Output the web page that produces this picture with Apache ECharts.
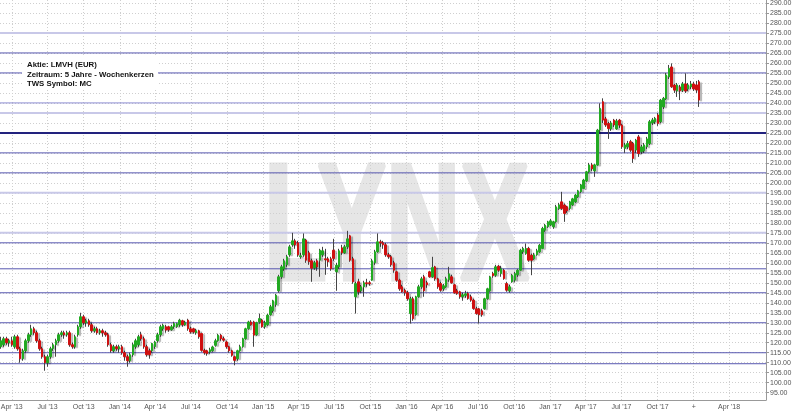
<!DOCTYPE html>
<html><head><meta charset="utf-8">
<script src="https://cdn.jsdelivr.net/npm/echarts@6/dist/echarts.min.js"></script>
<style>html,body{margin:0;padding:0;background:#fff}#c{width:800px;height:414px}</style>
</head><body><div id="c"></div>
<script>
// ---- DATA ----
const firstWeek = '2013-03-04'; // Monday of the first weekly candle
const opens = [
118,119,122,120,121,118,123,117,112,116, 121,124,127,125,121,117,113,110,113,117,
119,121,124,125,124,125,119,118,124,128, 133,130,131,129,126,127,125,126,125,124,
119,116,118,117,118,115,113,111,114,118, 119,124,122,118,116,116,118,121,124,127,
128,128,126.5,128,128,129,131,129,131.3,127, 127,125,126,124.6,116.2,116,115.4,116,118.7,121,
123.8,122,120.4,118,116,113,112,116,118,122, 127,130.4,130.4,124,130.4,131.3,128,129,134,136,
139,146,153,157,159,164,169,171,170,163, 164,171.3,165,161,157.5,161,161.3,164,162,162,
162,166.3,155.5,158,167.5,165,168,173.5,162,143, 150.5,146,148,150,150,151.3,160,165.5,170.5,170,
169,164,163,160,155.5,151.3,148,146.3,145,134.6, 142,134,143,148,153,150,155.5,153,158,152,
149.6,147,148,151.5,153,149,146,145.5,143,143.7, 144.6,143,141.3,137,137,136,137,142,146,154.6,
153.8,158.3,154.6,156.3,149.6,146,150.5,151.3,154,156.3, 165.5,164.6,167.2,163.8,162,164,165.5,167.2,176.3,178,
179,178,180.5,187,190.5,188.9,188,187.2,189,190.5, 193,195.5,197.2,201,205.5,209,206,208.9,226.4,240.6,
232,229.7,227,231.4,227,231.4,228.9,217.2,218,220.6, 219.7,216.4,223,215.6,216,218,219.7,230,230.6,234,
230.6,238,242,253,258,248.9,246,248,246.4,249.5, 247,248,249.5,249,250.6
];
const closes = [
121,122,120,121,119,123,117,112,116,121, 124,127,125,121,117,113,110,113,117,119,
121,124,125,124,125,119,118,123,128,133, 130,131,129,126,127,125,126,125,124,119,
116,118,117,118,115,113,111,114,119,121, 123,122,118,114,114,119.6,120.4,124,128,128.8,
126.3,126.5,128,129.6,129.5,131.3,129,130,127,125.4, 125.4,126,123,116.2,115,114.6,116.5,117.9,121,123.8,
122,121.3,118,116,113.7,111.2,116,118,122,127, 130.4,129,123.8,130,132.1,128,130,133.8,138,141,
143.8,153,158,161,163,168,171,169,164,163.5, 172,161.3,160.5,157.3,160,158,166.3,166,161.5,160.5,
157,162.2,158.8,166,165,168,172,161.3,150.5,149.6, 145.5,148,150,149.6,149.6,161,165.5,170.5,170,169,
164,163,159,156.3,151.3,147,145.5,145,142,142, 132,143,148,152,146,149,153,157.6,152,148,
146.3,148.5,152,154.5,150,145,144.6,143,144,144.5, 142.1,141.3,137.1,134.6,134,134,142,147,153,153.5,
158,156.3,157,152.1,146.3,148,153.8,154.6,156.3,166.3, 167.2,167.2,161.3,161.3,164,166,168.8,177.2,178.8,180.5,
181,180.5,188,189,187.2,184.7,186,190.5,192,193.9, 196,199,201.4,205.5,209,207,209,226.4,237.3,231.4,
229,227.2,230,229,231,228.9,218.1,219,219.7,216.4, 212.2,221.4,214.7,218,219,222,230.6,231.5,232.3,229.7,
241.4,242.3,254,257.3,248.1,246.4,249,246,249.5,246, 249,249.5,247,246.5,241.4
];
const lows = [
117,118,119,118,118,117,116,110,111,115, 120,123,124,120,116,112,106,108,112,116,
113,120,123,122,123,118,117,117,123,127, 129,128,128,125,125,124,124,123,123,118,
115,115,116,115,114,111,108,110,113,117, 118,121,117,113,112,115,117,120,123,126,
125,125.5,126,127,127.5,128,128,128.5,126,124.5, 124.5,124,122,115.5,114,113.5,114.5,115.5,118,120.5,
121,120.5,117,115,113,108.7,111,115.5,117.5,121.5, 126.5,128.5,118,123.5,129.5,127.5,127,128.5,133.5,135,
138,145,152,156,158,163,168,167,163,162, 163,160,159,150.5,156.5,156,153,163,154,158,
156,161,146,157,164,164.5,167,160.5,149.5,134.6, 144,145,143,148,148.5,151,159,165,168,167,
163,162,158,155,150.5,146,145,143.5,141,129.6, 131,133.5,142.5,147,143,147.5,152.5,152.5,151,147,
145.5,146,147.5,150.5,149.5,144.5,144,142,141,142.5, 141.5,140.5,136.5,134,129.6,133,136.5,141.5,145.5,152.5,
153,155.5,153,151.5,145.5,145,150,150.5,153,156, 164.5,164,160.5,153.8,161.5,163.5,165,167,175.5,177.5,
178.5,177,180,186.5,186.5,180.5,185,186.5,188.5,190, 192.5,195,197,200.5,205,206,203,208.5,225.5,230,
228,222,226,228,226.5,227.5,217,215,217,215.5, 210,215,213,214.5,215,217,219,229,229.5,228.5,
230,237,241.5,252,247.5,245,243,241.4,245.5,245, 246,247,246,245,238
];
const highs = [
123,123,123,122,123,124,124,118,117,122, 125,129,128,126,122,118,114,114,118,120,
122,125,126,126,126,126,120,124,129,135, 134,132,132,130,128,128,127,127,126,125,
120,119,119,119,119,116,114,115,120,122, 124,125.5,123,119,117,120,121,125,129,129.5,
129,128.5,129,130.5,130,132,131.5,131,132,128, 127.5,127,126.5,125,117,116.5,117.5,118.5,122,124.5,
124.5,123,121,118.5,116.5,113.5,116.5,119,122.5,127.5, 131,131.3,131,130.5,134.6,132,131,134.5,139,141.5,
144.5,154,159,162,164,169,175,172,171,165, 174.7,172,166,162,161,162,167,168,167,163,
163,172,160,167,169,169,176,174,163,150.5, 152,149,151,152,151,162,166.5,174.7,171.5,171,
170,165,164,161,156,152,149,147,146,143, 143,143.5,149,153,154,151,156,163,158.5,152.5,
150.5,149.5,153,158,154,149.5,147,146,145,146, 145.5,144,142,138,137.5,137,142.5,147.5,153.5,155.5,
159,159,158.5,157,150.5,149,154.5,155.5,157,167, 168,169.6,168,164.5,165,167,169.5,178,179.5,181,
182,181,189,190,195.5,189.5,188.5,191,192.5,194.5, 196.5,199.5,202,206,210,210,209.5,227,239.8,242.3,
233,230.5,231,232,232,232,229.5,220,221,221.5, 220.5,222,224,219,220,223,231.5,232.5,233,235,
242,243,255,259,259.8,249.5,250,249,250.5,254.8, 250,251,250.5,251,251.5
];
const xTickDates = ['2013-04-01','2013-07-01','2013-10-01','2014-01-01','2014-04-01','2014-07-01','2014-10-01',
  '2015-01-01','2015-04-01','2015-07-01','2015-10-01','2016-01-01','2016-04-01','2016-07-01','2016-10-01',
  '2017-01-01','2017-04-01','2017-07-01','2017-10-01','2018-01-01','2018-04-01'];
const xTickLabels = ["Apr '13","Jul '13","Oct '13","Jan '14","Apr '14","Jul '14","Oct '14",
  "Jan '15","Apr '15","Jul '15","Oct '15","Jan '16","Apr '16","Jul '16","Oct '16",
  "Jan '17","Apr '17","Jul '17","Oct '17","+","Apr '18"];
const yTicks = [95,100,105,110,115,120,125,130,135,140,145,150,155,160,165,170,175,180,185,190,
  195,200,205,210,215,220,225,230,235,240,245,250,255,260,265,270,275,280,285,290];
const levels = [275,265,255,240,235,225,215,205,195,175,170,157,145,130,115,109.5];
const xRange = ['2013-03-02','2018-07-04'];
const yRange = [91.35, 291.5];
const infoLines = ['Aktie: LMVH (EUR)','Zeitraum: 5 Jahre - Wochenkerzen','TWS Symbol: MC'];
const watermark = 'LYNX';

// ---- BUILD ----
function toTs(s){const p=s.split('-').map(Number);return Date.UTC(p[0],p[1]-1,p[2]);}
const DAY = 86400000;
const t0 = toTs(firstWeek);
const times = opens.map((_,i)=>t0 + 7*DAY*i);
const wickData = times.map((t,i)=>[t,opens[i],closes[i],lows[i],highs[i]]);
const bodyData = times.map((t,i)=>[t,opens[i],closes[i],Math.min(opens[i],closes[i]),Math.max(opens[i],closes[i])]);
const xTs = xTickDates.map(toTs);
const labelFor = v => { for (let i=0;i<xTs.length;i++) if (Math.abs(xTs[i]-v) < DAY) return xTickLabels[i]; return ''; };

const styleFor = {light:{color:'#c8c8e8',width:2}, mid:{color:'#5858b0',width:1}, soft:{color:'#8c8cd2',width:1}, dark:{color:'#22227e',width:2}};
const kindOf = v => (v===275||v===235||v===195||v===175)?'light':(v===225?'dark':(v===240?'soft':'mid'));
const infoFont = 'bold 7.8px "Liberation Sans"';
const x0 = toTs(xRange[0]), x1 = toTs(xRange[1]);

// one plain line series per horizontal level, drawn through the axes
const levelSeries = levels.map(v => ({
  type:'line', data:[[x0,v],[x1,v]], symbol:'none', silent:true, z:1, animation:false,
  lineStyle:{color:styleFor[kindOf(v)].color,width:styleFor[kindOf(v)].width,type:'solid'},
  emphasis:{disabled:true}
}));

const chart = echarts.init(document.getElementById('c'), null, {renderer:'canvas'});
chart.setOption({
  animation:false,
  backgroundColor:'#fff',
  grid:{left:0,right:34,top:0,bottom:14,containLabel:false,outerBoundsMode:'none'},
  xAxis:{
    type:'value', min:x0, max:x1,
    axisLine:{show:true,lineStyle:{color:'#999',width:1}},
    axisTick:{show:false,customValues:xTs},
    axisLabel:{customValues:xTs,formatter:v=>labelFor(v),color:'#555',fontSize:7,fontFamily:'Liberation Sans',margin:4,hideOverlap:false,showMinLabel:true,showMaxLabel:true},
    splitLine:{show:true,lineStyle:{color:'#cfcfcf',type:[1,2],width:1}}
  },
  yAxis:{
    type:'value', position:'right', min:yRange[0], max:yRange[1],
    name:'Price', nameLocation:'middle', nameRotate:-90, nameGap:25,
    nameTextStyle:{color:'#555',fontSize:7,fontFamily:'Liberation Sans'},
    axisLine:{show:true,lineStyle:{color:'#999',width:1}},
    axisTick:{show:true,length:3,lineStyle:{color:'#999'},customValues:yTicks},
    axisLabel:{customValues:yTicks,formatter:v=>Number(v).toFixed(2),color:'#555',fontSize:7,fontFamily:'Liberation Sans',margin:4},
    splitLine:{show:true,lineStyle:{color:'#cfcfcf',type:[1,2],width:1}}
  },
  graphic:[
    {type:'text',z:-10,silent:true,x:264,y:233,scaleX:0.62,
      style:{text:watermark,font:'bold 166px "Liberation Sans"',fill:'#e6e6e6',stroke:'#e6e6e6',lineWidth:5,verticalAlign:'middle',align:'left'}},
    {type:'rect',z:50,silent:true,shape:{x:22,y:57,width:136,height:33},style:{fill:'#fff'}},
    {type:'text',z:51,silent:true,x:27,y:65,style:{text:infoLines[0],font:infoFont,fill:'#111',verticalAlign:'middle'}},
    {type:'text',z:51,silent:true,x:27,y:74.4,style:{text:infoLines[1],font:infoFont,fill:'#111',verticalAlign:'middle'}},
    {type:'text',z:51,silent:true,x:27,y:83.8,style:{text:infoLines[2],font:infoFont,fill:'#111',verticalAlign:'middle'}}
  ],
  series: levelSeries.concat([
    {type:'candlestick',name:'wick',data:wickData,barWidth:1,z:3,
      itemStyle:{color:'#444',color0:'#444',borderColor:'#444',borderColor0:'#444',borderWidth:1}
    },
    {type:'candlestick',name:'body',data:bodyData,barWidth:2,z:4,
      itemStyle:{color:'#22aa22',color0:'#d01010',borderColor:'#22aa22',borderColor0:'#d01010',borderWidth:1,
        shadowColor:'rgba(0,0,0,0.22)',shadowBlur:1,shadowOffsetX:2,shadowOffsetY:1}
    }
  ])
});
</script></body></html>
